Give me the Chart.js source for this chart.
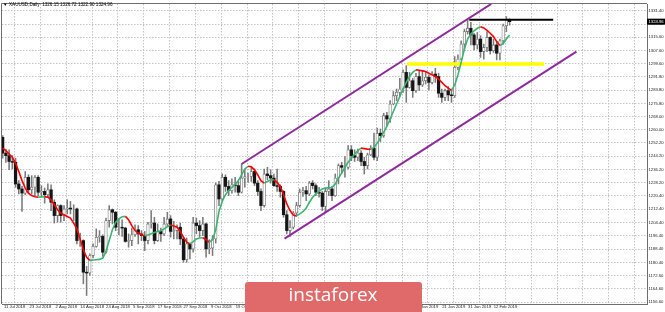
<!DOCTYPE html>
<html>
<head>
<meta charset="utf-8">
<script src="https://cdn.jsdelivr.net/npm/chart.js@4.4.1/dist/chart.umd.min.js"></script>
<style>
  html, body { margin: 0; padding: 0; background: #fff; }
  #wrap { width: 665px; height: 312px; }
</style>
</head>
<body>
<div id="wrap"><canvas id="chart" width="665" height="312"></canvas></div>
<script>
// XAUUSD daily, 11 Jul 2018 .. 19 Feb 2019 (one entry per bar)
const opens = [
  1255.5,1246.0,1244.5,1241.0,1240.5,1227.5,1224.5,1222.0,1231.5,1224.0,
  1225.5,1231.5,1222.5,1223.0,1221.0,1224.0,1216.5,1208.5,1214.5,1208.5,
  1212.5,1213.0,1212.5,1212.5,1193.5,1193.5,1174.5,1174.0,1184.5,1190.0,
  1195.5,1196.0,1186.5,1205.5,1212.0,1210.5,1201.5,1201.5,1201.0,1193.0,
  1193.5,1197.0,1200.0,1197.5,1196.5,1193.5,1203.5,1204.0,1193.5,1199.0,
  1197.5,1203.5,1206.5,1199.0,1199.5,1201.5,1194.5,1182.0,1191.5,1188.5,
  1204.0,1202.5,1199.5,1203.5,1188.5,1189.0,1194.5,1227.0,1218.5,1231.5,
  1226.0,1223.5,1227.0,1226.5,1222.5,1231.0,1232.0,1232.0,1235.0,1228.0,
  1223.0,1214.5,1233.5,1232.5,1231.0,1226.5,1226.0,1223.0,1209.0,1199.5,
  1201.5,1210.0,1214.5,1222.5,1223.5,1221.5,1228.0,1226.5,1222.5,1222.0,
  1214.0,1223.0,1224.5,1220.5,1231.0,1238.5,1237.5,1237.5,1248.0,1244.5,
  1243.5,1246.0,1241.0,1238.5,1245.0,1249.0,1243.5,1258.0,1256.5,1268.5,
  1266.5,1275.5,1280.5,1282.5,1284.5,1294.5,1285.5,1289.5,1283.5,1292.0,
  1287.0,1289.5,1291.5,1288.5,1293.5,1292.0,1282.0,1279.5,1283.5,1281.0,
  1280.5,1297.5,1302.5,1311.5,1319.0,1321.0,1317.0,1311.0,1314.5,1307.0,
  1309.5,1315.5,1307.5,1311.0,1306.0,1313.5,1322.5,1326.15
];
const highs = [
  1256.5,1248.5,1248.0,1244.5,1243.0,1229.5,1226.0,1235.0,1233.0,1232.5,
  1232.5,1232.5,1226.5,1225.0,1227.5,1227.0,1218.0,1215.0,1215.0,1214.5,
  1218.0,1217.0,1215.0,1213.0,1198.0,1194.0,1178.0,1185.5,1191.5,1200.5,
  1199.5,1197.0,1207.0,1214.5,1212.5,1211.0,1206.5,1206.0,1201.5,1197.5,
  1201.0,1203.0,1202.5,1199.5,1199.0,1204.5,1211.5,1207.5,1203.5,1201.0,
  1207.5,1210.5,1208.5,1205.0,1203.0,1204.0,1195.5,1195.0,1192.0,1207.5,
  1207.0,1205.5,1207.5,1204.0,1194.0,1196.5,1228.0,1229.0,1233.5,1233.0,
  1229.5,1230.5,1231.5,1229.0,1239.5,1236.0,1234.0,1237.5,1236.5,1229.5,
  1224.5,1236.5,1237.5,1236.0,1233.5,1236.5,1227.0,1223.5,1211.5,1205.5,
  1211.0,1216.5,1224.5,1225.5,1226.0,1229.0,1229.5,1227.5,1225.5,1223.0,
  1225.0,1229.5,1226.0,1233.5,1239.5,1240.5,1244.0,1250.5,1250.5,1248.0,
  1248.5,1247.5,1243.5,1246.0,1250.5,1258.0,1261.0,1260.5,1270.0,1270.5,
  1277.5,1283.0,1284.5,1291.0,1296.0,1298.5,1294.5,1291.0,1294.0,1295.5,
  1295.5,1294.5,1293.0,1295.0,1297.0,1294.0,1284.5,1284.5,1286.0,1284.5,
  1304.0,1305.0,1313.5,1320.5,1326.3,1324.5,1318.0,1318.5,1316.5,1311.5,
  1319.0,1316.0,1314.5,1313.0,1314.5,1323.5,1328.0,1326.72
];
const lows = [
  1243.0,1240.5,1236.0,1236.5,1225.5,1221.5,1211.0,1221.0,1221.5,1221.5,
  1220.5,1220.5,1220.0,1216.0,1219.5,1211.5,1204.0,1204.5,1204.5,1205.5,
  1209.5,1209.5,1205.5,1191.5,1190.0,1167.5,1160.5,1172.5,1183.0,1189.5,
  1192.5,1184.0,1186.0,1201.5,1203.5,1199.5,1197.0,1196.0,1192.5,1189.5,
  1190.5,1196.0,1191.5,1193.5,1187.5,1191.5,1201.0,1191.5,1193.0,1193.0,
  1196.5,1202.5,1195.5,1194.5,1194.5,1191.0,1180.5,1180.5,1182.5,1186.5,
  1197.5,1195.5,1196.5,1183.5,1185.5,1184.5,1192.0,1214.5,1217.5,1223.0,
  1220.5,1222.0,1222.5,1220.5,1222.0,1225.5,1228.5,1229.0,1226.5,1220.5,
  1211.5,1213.5,1230.0,1228.0,1226.0,1223.0,1219.5,1207.5,1197.5,1196.0,
  1200.5,1208.0,1213.5,1220.0,1217.5,1220.5,1224.5,1220.5,1219.5,1211.5,
  1210.5,1220.5,1217.5,1220.0,1227.5,1234.0,1231.5,1236.5,1241.5,1241.0,
  1241.5,1238.5,1233.5,1236.5,1244.5,1242.0,1241.5,1253.0,1255.5,1262.5,
  1264.5,1275.0,1277.5,1280.0,1282.5,1276.5,1285.0,1279.5,1282.5,1283.5,
  1286.0,1287.5,1284.0,1287.5,1288.5,1279.5,1276.5,1277.5,1277.5,1276.5,
  1279.5,1296.0,1302.0,1307.5,1317.5,1311.0,1308.0,1308.5,1303.5,1302.5,
  1307.0,1305.5,1306.5,1302.0,1302.0,1311.5,1319.0,1322.90
];
const closes = [
  1246.0,1244.5,1241.0,1240.5,1227.5,1224.5,1222.0,1231.5,1224.0,1225.5,
  1231.5,1222.5,1223.0,1221.0,1224.0,1216.5,1208.5,1214.5,1208.5,1212.5,
  1213.0,1212.5,1212.5,1193.5,1193.5,1174.5,1174.0,1184.5,1190.0,1195.5,
  1196.0,1186.5,1205.5,1212.0,1210.5,1201.5,1201.5,1201.0,1193.0,1193.5,
  1197.0,1200.0,1197.5,1196.5,1193.5,1203.5,1204.0,1193.5,1199.0,1197.5,
  1203.5,1206.5,1199.0,1199.5,1201.5,1194.5,1182.0,1191.5,1188.5,1204.0,
  1202.5,1199.5,1203.5,1188.5,1189.0,1194.5,1227.0,1218.5,1231.5,1226.0,
  1223.5,1227.0,1226.5,1222.5,1231.0,1232.0,1232.0,1235.0,1228.0,1223.0,
  1214.5,1233.5,1232.5,1231.0,1226.5,1226.0,1223.0,1209.0,1199.5,1201.5,
  1210.0,1214.5,1222.5,1223.5,1221.5,1228.0,1226.5,1222.5,1222.0,1214.0,
  1223.0,1224.5,1220.5,1231.0,1238.5,1237.5,1237.5,1248.0,1244.5,1243.5,
  1246.0,1241.0,1238.5,1245.0,1249.0,1243.5,1258.0,1256.5,1268.5,1266.5,
  1275.5,1280.5,1282.5,1284.5,1294.5,1285.5,1289.5,1283.5,1292.0,1287.0,
  1289.5,1291.5,1288.5,1293.5,1292.0,1282.0,1279.5,1283.5,1281.0,1280.5,
  1297.5,1302.5,1311.5,1319.0,1321.0,1317.0,1311.0,1314.5,1307.0,1309.5,
  1315.5,1307.5,1311.0,1306.0,1313.5,1322.5,1326.0,1324.96
];
// moving average line
const maValues = [
  1249.0,1247.5,1245.5,1243.5,1240.0,1235.0,1229.5,1225.0,1222.0,1220.5,
  1219.8,1219.6,1219.7,1219.8,1219.6,1218.0,1215.0,1212.0,1210.0,1209.0,
  1208.0,1207.0,1204.0,1200.5,1194.5,1188.0,1183.5,1181.6,1181.8,1182.0,
  1182.2,1183.0,1187.0,1193.5,1200.0,1204.5,1206.5,1207.8,1208.0,1206.0,
  1202.5,1199.5,1198.0,1197.0,1196.4,1196.8,1197.6,1198.4,1199.0,1199.4,
  1200.5,1201.8,1202.8,1202.3,1201.5,1199.0,1195.5,1192.5,1191.5,1192.8,
  1194.5,1195.0,1195.2,1194.0,1192.5,1194.0,1200.0,1211.0,1217.0,1221.0,
  1223.5,1225.5,1227.2,1229.5,1233.0,1236.5,1238.1,1237.8,1236.0,1233.0,
  1229.5,1228.0,1229.0,1229.8,1230.0,1228.5,1226.0,1221.0,1215.5,1211.5,
  1208.8,1208.3,1209.5,1210.8,1213.0,1216.5,1219.5,1221.5,1223.0,1224.5,
  1225.0,1225.2,1225.4,1227.5,1231.0,1234.0,1237.5,1240.5,1243.0,1245.5,
  1247.5,1249.0,1248.7,1248.4,1248.3,1249.5,1252.0,1255.0,1258.5,1262.0,
  1266.5,1271.0,1275.5,1280.0,1284.5,1288.5,1292.0,1294.5,1296.0,1295.8,
  1295.4,1295.0,1294.0,1293.0,1292.0,1290.5,1288.5,1286.5,1285.0,1283.7,
  1287.0,1293.0,1300.5,1308.5,1314.5,1317.5,1319.5,1321.0,1321.9,1321.2,
  1319.8,1318.0,1316.0,1313.0,1310.6,1311.8,1314.5,1317.0
];

// time axis: a date label every 8 bars, grid continues into the empty right side
const dateLabels = ['11 Jul 2018','23 Jul 2018','2 Aug 2018','14 Aug 2018','24 Aug 2018',
  '5 Sep 2018','17 Sep 2018','27 Sep 2018','9 Oct 2018','19 Oct 2018','31 Oct 2018',
  '12 Nov 2018','22 Nov 2018','4 Dec 2018','14 Dec 2018','27 Dec 2018','9 Jan 2019',
  '21 Jan 2019','31 Jan 2019','12 Feb 2019'];
const gridBars = [0,8,16,24,32,40,48,56,64,72,80,88,96,104,112,120,128,136,144,152,160,168,176,184,192];
const priceTicks = [1156.60,1164.60,1172.60,1180.40,1188.40,1196.40,1204.40,1212.40,1220.40,
  1228.20,1236.20,1244.20,1252.20,1260.00,1268.00,1275.80,1283.80,1291.80,1299.60,1307.60,
  1315.60,1323.40,1331.40];

// drawn objects: [bar, price] end points
const upperChannel = [[74, 1239.5], [151.3, 1335.6]];
const lowerChannel = [[87.3, 1194.7], [177.7, 1307.0]];
const yellowLevel = [[125.3, 1299.5], [167.7, 1299.5]];
const blackLevel = [[144.5, 1326.1], [170.5, 1326.1]];

const titleText = 'XAUUSD,Daily  1326.15 1326.72 1322.90 1324.96';

const AXIS_FONT = 'Liberation Sans';
const GREEN = '#3cb371';
const RED = '#ff0000';
const PURPLE = '#8e2a9c';
const LABEL_SHIFT = 3.7;

const toPoints = arr => arr.map(p => ({ x: p[0], y: p[1] }));

function objectLine(points, color, width) {
  return {
    type: 'line', data: toPoints(points), borderColor: color, borderWidth: width,
    pointRadius: 0, fill: false, order: 1
  };
}

const overlay = {
  id: 'overlay',
  afterDraw(chart) {
    const { ctx, chartArea: a, scales } = chart;
    ctx.save();
    // frame
    ctx.strokeStyle = '#6e6e6e';
    ctx.lineWidth = 1;
    ctx.beginPath();
    ctx.moveTo(a.left - 0.5, a.bottom);
    ctx.lineTo(a.left - 0.5, a.top - 0.5);
    ctx.lineTo(a.right, a.top - 0.5);
    ctx.stroke();

    // title
    ctx.fillStyle = '#000';
    ctx.font = '4.6px ' + AXIS_FONT;
    ctx.textBaseline = 'middle';
    ctx.fillText('\u25BC', 3, 4.5);
    ctx.fillText(titleText, 9, 4.5);

    // current price box
    const last = closes[closes.length - 1];
    const py = scales.y.getPixelForValue(last);
    ctx.fillStyle = '#000';
    ctx.fillRect(a.right, py - 3, 665 - a.right, 6);
    ctx.fillStyle = '#fff';
    ctx.font = '4.2px ' + AXIS_FONT;
    ctx.fillText(last.toFixed(2), a.right + 1.5, py);

    // watermark
    ctx.fillStyle = '#e06a6a';
    ctx.beginPath();
    ctx.roundRect(245, 282, 177, 34, 3);
    ctx.fill();
    ctx.fillStyle = '#fff';
    ctx.font = '19px "Open Sans"';
    ctx.textAlign = 'center';
    ctx.textBaseline = 'middle';
    ctx.fillText('instaforex', 333, 295.5);
    ctx.restore();
  }
};

const ctx = document.getElementById('chart').getContext('2d');

new Chart(ctx, {
  type: 'bar',
  data: {
    datasets: [
      {
        type: 'line', label: 'MA',
        data: maValues.map((v, i) => ({ x: i, y: v })),
        borderWidth: 1.6, pointRadius: 0, fill: false, order: 0,
        segment: { borderColor: c => c.p1.parsed.y >= c.p0.parsed.y ? GREEN : RED }
      },
      objectLine(upperChannel, PURPLE, 2),
      objectLine(lowerChannel, PURPLE, 2),
      objectLine(yellowLevel, '#ffff00', 3.5),
      objectLine(blackLevel, '#000000', 2),
      {
        label: 'body',
        data: opens.map((o, i) => ({ x: i, y: [o, closes[i]] })),
        backgroundColor: opens.map((o, i) => closes[i] >= o ? '#ffffff' : '#151515'),
        borderColor: '#7a7a7a',
        borderWidth: opens.map((o, i) => closes[i] >= o ? 0.8 : 0),
        borderSkipped: false,
        barThickness: 2.6, grouped: false, order: 2
      },
      {
        label: 'wick',
        data: lows.map((l, i) => ({ x: i, y: [l, highs[i]] })),
        backgroundColor: '#7a7a7a',
        barThickness: 0.9, grouped: false, order: 3
      }
    ]
  },
  options: {
    responsive: false,
    animation: false,
    events: [],
    layout: { padding: { left: 2, top: 1, right: 0, bottom: 0 } },
    plugins: { legend: { display: false }, tooltip: { enabled: false } },
    scales: {
      x: {
        type: 'linear', min: -0.2, max: 199.55, offset: false,
        afterBuildTicks: s => { s.ticks = gridBars.map(b => ({ value: b + LABEL_SHIFT })); },
        afterFit: s => { s.height = 8; },
        ticks: {
          autoSkip: false, maxRotation: 0, minRotation: 0, padding: 0.5,
          color: '#222', font: { size: 4.2, family: AXIS_FONT },
          callback: (v, i) => dateLabels[i] || ''
        },
        grid: { color: '#c4c4c4', drawTicks: false, tickLength: 0, offset: false },
        border: { display: true, color: '#6e6e6e', dash: [1.5, 1.5] }
      },
      y: {
        type: 'linear', position: 'right', min: 1155.4, max: 1335.56, beginAtZero: false,
        afterBuildTicks: s => { s.ticks = priceTicks.map(v => ({ value: v })); },
        afterFit: s => { s.width = 18; },
        ticks: {
          autoSkip: false, padding: 1.5,
          color: '#222', font: { size: 4.2, family: AXIS_FONT },
          callback: v => v.toFixed(2)
        },
        grid: { color: '#c4c4c4', drawTicks: false, tickLength: 0 },
        border: { display: true, color: '#6e6e6e', dash: [1.5, 1.5] }
      }
    }
  },
  plugins: [overlay]
});
</script>
</body>
</html>
